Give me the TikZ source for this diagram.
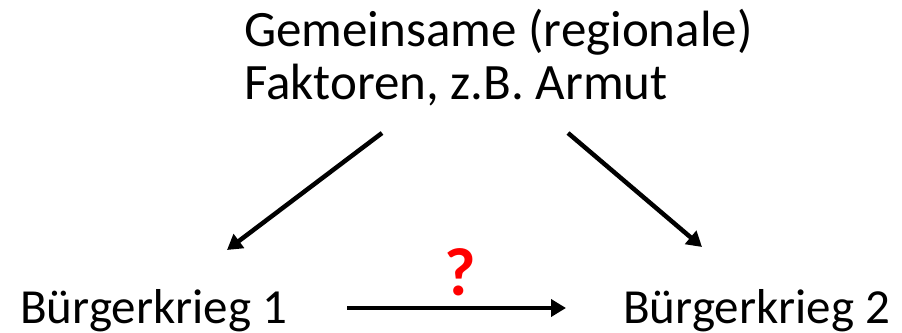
\documentclass[tikz,border=0pt]{standalone}
\usepackage{fontspec}
\setmainfont{Carlito}
\usetikzlibrary{arrows.meta}
\tikzset{
  lbl/.style={inner sep=0pt, anchor=base west, font=\fontsize{49}{56}\selectfont},
  toplbl/.style={lbl, font=\fontsize{51}{58}\selectfont},
  conn/.style={line width=4.5pt, -{Triangle[length=15pt,width=17pt]}},
  qmark/.style={inner sep=0pt, anchor=base, text=red, font=\fontsize{68}{74}\selectfont\bfseries}
}
\begin{document}
\begin{tikzpicture}[x=1pt,y=1pt]
\useasboundingbox (0,0) rectangle (902,332);
\node[toplbl] (top1) at (244,285) {Gemeinsame (regionale)};
\node[toplbl] (top2) at (244,232) {Faktoren, z.B. Armut};
\node[lbl] (bk1) at (20,9) {Bürgerkrieg 1};
\node[lbl] (bk2) at (623,9) {Bürgerkrieg 2};
\node[qmark] (q) at (460,37) {?};
\coordinate (ls) at (382,199);
\coordinate (le) at (227,82);
\coordinate (rs) at (568,199);
\coordinate (re) at (702,85);
\coordinate (hs) at (347,24);
\coordinate (he) at (566,24);
\draw[conn] (ls) -- (le);
\draw[conn] (rs) -- (re);
\draw[conn] (hs) -- (he);
\end{tikzpicture}
\end{document}
